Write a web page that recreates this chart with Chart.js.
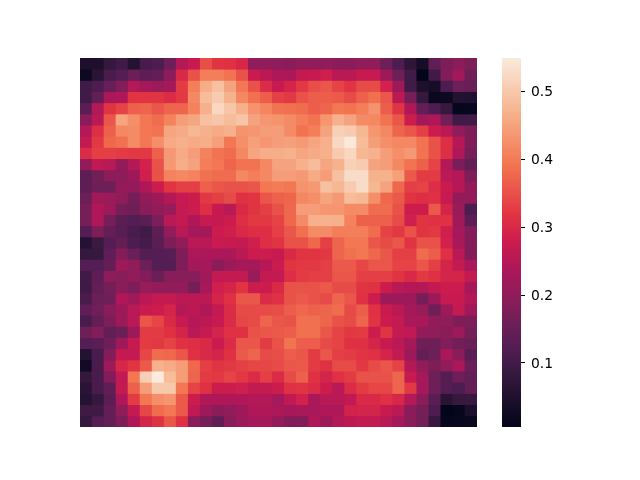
<!DOCTYPE html>
<html>
<head>
<meta charset="utf-8">
<title>Heatmap</title>
<script src="https://cdn.jsdelivr.net/npm/chart.js@4/dist/chart.umd.js"></script>
<style>
  html, body { margin: 0; padding: 0; background: #fff; }
  canvas { position: absolute; left: 0; top: 0; }
</style>
</head>
<body>
<canvas id="heatmap" width="640" height="480"></canvas>
<canvas id="colorbar" width="640" height="480"></canvas>
<script>
// one row of the heatmap per line, top to bottom
const values = [
  [.047,.047,.081,.099,.056,.108,.116,.159,.246,.271,.348,.318,.313,.297,.203,.203,.198,.194,.203,.203,.203,.194,.194,.203,.203,.159,.116,.073,.038,.142,.177,.194,.177],
  [.021,.064,.112,.125,.155,.138,.146,.198,.301,.352,.404,.404,.391,.352,.275,.258,.237,.237,.267,.271,.284,.254,.254,.271,.271,.220,.159,.099,.006,.099,.185,.224,.159],
  [.099,.116,.151,.185,.246,.229,.216,.229,.326,.404,.464,.490,.451,.396,.352,.305,.271,.292,.322,.348,.357,.335,.318,.344,.344,.288,.220,.099,.047,.038,.116,.159,.151],
  [.099,.146,.237,.242,.318,.318,.318,.305,.322,.417,.483,.505,.470,.417,.387,.365,.331,.322,.352,.365,.365,.361,.344,.370,.387,.357,.258,.168,.081,.016,.021,.056,.053],
  [.133,.246,.318,.335,.370,.374,.357,.374,.374,.409,.468,.522,.497,.468,.430,.413,.391,.387,.383,.365,.374,.396,.391,.404,.430,.365,.318,.242,.146,.116,.086,.010,.013],
  [.194,.254,.357,.455,.426,.396,.383,.409,.443,.455,.490,.497,.483,.497,.451,.434,.430,.421,.404,.391,.434,.468,.451,.421,.417,.391,.357,.280,.224,.242,.164,.099,.099],
  [.246,.309,.370,.417,.421,.396,.391,.455,.460,.476,.468,.460,.468,.430,.434,.443,.443,.421,.391,.404,.451,.512,.505,.476,.434,.417,.374,.357,.331,.280,.254,.203,.177],
  [.267,.322,.378,.387,.421,.396,.426,.460,.468,.460,.464,.447,.396,.426,.447,.434,.443,.447,.438,.455,.468,.522,.547,.483,.443,.426,.417,.417,.391,.352,.309,.250,.181],
  [.305,.331,.331,.326,.322,.322,.370,.438,.460,.443,.409,.391,.383,.417,.455,.464,.464,.470,.455,.460,.468,.505,.522,.476,.470,.443,.426,.438,.391,.352,.309,.242,.168],
  [.207,.263,.254,.207,.246,.288,.352,.438,.464,.451,.404,.396,.374,.391,.391,.417,.451,.451,.468,.483,.455,.470,.512,.505,.451,.443,.417,.391,.370,.335,.246,.172,.146],
  [.138,.164,.198,.198,.220,.284,.352,.409,.417,.409,.387,.383,.383,.417,.404,.417,.443,.443,.438,.460,.443,.490,.528,.528,.470,.470,.447,.361,.326,.326,.254,.250,.177],
  [.138,.159,.159,.207,.207,.242,.280,.318,.331,.331,.370,.357,.352,.352,.357,.396,.400,.396,.430,.438,.490,.476,.505,.528,.476,.451,.378,.331,.335,.309,.275,.250,.207],
  [.155,.224,.216,.203,.168,.207,.220,.246,.271,.280,.322,.331,.344,.313,.318,.357,.370,.374,.417,.426,.455,.438,.483,.476,.426,.378,.361,.318,.309,.313,.271,.207,.203],
  [.168,.242,.220,.168,.159,.194,.207,.211,.267,.280,.309,.271,.254,.301,.318,.331,.352,.378,.443,.443,.434,.434,.421,.421,.383,.383,.352,.280,.280,.361,.292,.211,.116],
  [.168,.242,.168,.133,.125,.133,.177,.254,.267,.242,.271,.267,.280,.309,.322,.322,.335,.378,.421,.468,.470,.468,.409,.370,.370,.370,.344,.284,.318,.313,.313,.224,.138],
  [.125,.177,.146,.129,.112,.099,.138,.203,.254,.229,.229,.280,.284,.301,.309,.309,.331,.357,.387,.421,.421,.404,.404,.404,.383,.335,.322,.352,.318,.322,.284,.229,.185],
  [.056,.091,.125,.146,.116,.104,.133,.177,.203,.254,.254,.275,.271,.267,.284,.309,.318,.352,.352,.378,.331,.374,.396,.396,.357,.344,.357,.318,.352,.352,.288,.233,.185],
  [.081,.086,.142,.185,.155,.125,.125,.129,.177,.237,.237,.237,.237,.254,.280,.280,.271,.301,.318,.318,.322,.374,.387,.396,.378,.357,.331,.331,.383,.365,.313,.254,.185],
  [.125,.125,.146,.220,.203,.159,.125,.125,.177,.229,.229,.194,.216,.229,.229,.250,.275,.318,.322,.322,.331,.361,.361,.339,.357,.357,.335,.335,.357,.331,.292,.267,.233],
  [.099,.138,.198,.190,.203,.185,.155,.190,.190,.190,.224,.267,.267,.267,.211,.267,.267,.309,.326,.331,.331,.357,.357,.331,.331,.331,.318,.301,.322,.313,.292,.292,.267],
  [.095,.146,.168,.194,.177,.211,.207,.203,.203,.168,.229,.284,.292,.318,.280,.280,.301,.352,.352,.352,.361,.344,.344,.318,.313,.280,.254,.246,.246,.267,.280,.280,.229],
  [.112,.155,.159,.242,.224,.258,.267,.267,.258,.258,.258,.292,.313,.357,.357,.305,.313,.352,.361,.352,.344,.374,.357,.313,.280,.220,.220,.220,.168,.220,.271,.271,.246],
  [.142,.159,.194,.220,.254,.275,.280,.292,.250,.258,.242,.267,.305,.344,.344,.344,.348,.365,.378,.370,.374,.383,.344,.365,.313,.275,.254,.229,.211,.159,.220,.267,.224],
  [.112,.146,.177,.220,.254,.357,.339,.301,.271,.250,.258,.271,.305,.339,.344,.374,.357,.352,.387,.387,.374,.352,.344,.374,.318,.280,.267,.233,.233,.203,.203,.181,.177],
  [.159,.185,.146,.155,.220,.326,.326,.313,.292,.254,.271,.292,.313,.313,.352,.357,.361,.365,.387,.387,.357,.335,.322,.326,.280,.318,.267,.263,.207,.203,.194,.220,.168],
  [.125,.133,.159,.220,.271,.326,.322,.335,.313,.309,.301,.275,.305,.357,.357,.326,.352,.391,.365,.365,.344,.335,.313,.313,.292,.271,.254,.229,.159,.159,.185,.164,.155],
  [.056,.112,.185,.267,.267,.339,.383,.378,.357,.313,.301,.292,.313,.361,.374,.344,.348,.365,.357,.326,.357,.331,.326,.318,.313,.292,.267,.220,.146,.159,.233,.194,.133],
  [.030,.112,.220,.297,.318,.361,.470,.460,.443,.378,.331,.318,.322,.331,.339,.339,.344,.357,.361,.326,.313,.344,.344,.322,.344,.357,.335,.246,.203,.177,.203,.233,.155],
  [.081,.112,.185,.263,.396,.510,.549,.483,.443,.374,.326,.322,.335,.322,.305,.331,.305,.344,.370,.313,.292,.313,.326,.352,.352,.352,.374,.271,.229,.159,.125,.159,.146],
  [.064,.112,.142,.267,.370,.443,.500,.500,.396,.335,.313,.280,.280,.284,.267,.267,.280,.313,.318,.305,.280,.254,.305,.326,.339,.339,.374,.322,.229,.159,.125,.116,.146],
  [.056,.081,.133,.242,.326,.396,.426,.434,.361,.280,.242,.242,.242,.242,.246,.246,.229,.263,.288,.233,.254,.254,.263,.301,.301,.313,.297,.246,.194,.133,.064,.086,.086],
  [.095,.095,.146,.203,.267,.339,.383,.396,.361,.263,.220,.194,.203,.220,.242,.242,.237,.229,.233,.233,.242,.242,.288,.292,.292,.271,.254,.194,.168,.116,.006,.010,.043],
  [.081,.125,.146,.177,.242,.292,.313,.357,.313,.194,.168,.142,.194,.216,.229,.229,.207,.185,.185,.242,.220,.246,.258,.267,.267,.254,.229,.194,.164,.086,.010,.013,.016]
];
const colorbarTicks = [0.1, 0.2, 0.3, 0.4, 0.5];
const vmin = 0.0056;
const vmax = 0.5497;

// rocket palette, position along the map and colour
const rocketStops = [0, 1/7, 3/14, 2/7, 5/14, 3/7, 1/2, 4/7, 5/7, 6/7, 1];
const rocketColors = [
  [3,5,26], [53,25,62], [82,29,84], [112,31,87], [143,28,90], [173,23,89],
  [203,27,79], [225,51,66], [243,118,81], [246,180,143], [250,235,221]
];

function mix(a, b, f) {
  return a.map((c, i) => Math.round(c + (b[i] - c) * f));
}

function cellColor(v) {
  const t = Math.min(1, Math.max(0, (v - vmin) / (vmax - vmin)));
  let i = 0;
  while (i < rocketStops.length - 2 && t > rocketStops[i + 1]) i++;
  const f = (t - rocketStops[i]) / (rocketStops[i + 1] - rocketStops[i]);
  const c = mix(rocketColors[i], rocketColors[i + 1], f);
  return 'rgb(' + c.join(',') + ')';
}

const columns = values[0].map((_, i) => i);

// stacked bars, one dataset per row, each cell one unit tall
new Chart(document.getElementById('heatmap'), {
  type: 'bar',
  data: {
    labels: columns,
    datasets: values.map(row => ({
      data: row.map(() => 1),
      backgroundColor: row.map(cellColor),
      borderWidth: 0,
      inflateAmount: 0.4,
      barPercentage: 1,
      categoryPercentage: 1
    }))
  },
  options: {
    responsive: false,
    animation: false,
    devicePixelRatio: 1,
    layout: { padding: { left: 80, right: 163, top: 58, bottom: 53 } },
    plugins: { legend: { display: false }, tooltip: { enabled: false } },
    scales: {
      x: { stacked: true, display: false },
      y: { stacked: true, display: false, reverse: true, min: 0, max: values.length }
    }
  }
});

new Chart(document.getElementById('colorbar'), {
  type: 'bar',
  data: {
    labels: [''],
    datasets: [{
      data: [[vmin, vmax]],
      backgroundColor: ctx => {
        const area = ctx.chart.chartArea;
        if (!area) return '#000';
        const g = ctx.chart.ctx.createLinearGradient(0, area.bottom, 0, area.top);
        rocketStops.forEach((s, i) => g.addColorStop(s, 'rgb(' + rocketColors[i].join(',') + ')'));
        return g;
      },
      borderWidth: 0,
      barPercentage: 1,
      categoryPercentage: 1
    }]
  },
  options: {
    responsive: false,
    animation: false,
    devicePixelRatio: 1,
    layout: { padding: { left: 502, right: 79, top: 58, bottom: 53 } },
    plugins: { legend: { display: false }, tooltip: { enabled: false } },
    scales: {
      x: { display: false },
      y: {
        position: 'right',
        min: vmin,
        max: vmax,
        afterBuildTicks: scale => { scale.ticks = colorbarTicks.map(v => ({ value: v })); },
        afterFit: scale => { scale.width = 40; },
        border: { display: false },
        grid: { drawOnChartArea: false, drawTicks: true, tickLength: 4, tickColor: '#000', tickWidth: 1 },
        ticks: {
          padding: 6,
          labelOffset: 1,
          color: '#000',
          font: { family: 'DejaVu Sans', size: 13.89 },
          callback: v => v.toFixed(1)
        }
      }
    }
  }
});
</script>
</body>
</html>
